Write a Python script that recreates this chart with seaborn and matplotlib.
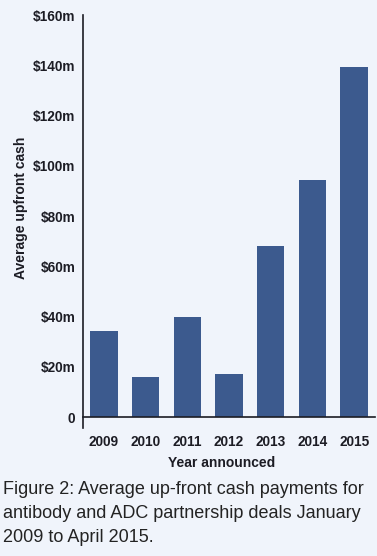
import pandas as pd
import matplotlib
matplotlib.use("Agg")
import matplotlib.pyplot as plt
import seaborn as sns

years = ["2009", "2010", "2011", "2012", "2013", "2014", "2015"]
upfront_cash = [34.2, 16.0, 40.0, 17.1, 68.0, 94.3, 139.3]
ytick_values = [0, 20, 40, 60, 80, 100, 120, 140, 160]
ytick_labels = ["0", "$20m", "$40m", "$60m", "$80m", "$100m", "$120m", "$140m", "$160m"]

BG = "#f0f4fb"
BAR = "#3c5a8e"
INK = "#1c1c24"

sns.set_style("white")
plt.rcParams["font.family"] = ["Liberation Sans Narrow", "Liberation Sans", "DejaVu Sans"]

df = pd.DataFrame({"Year": years, "Cash": upfront_cash})

fig = plt.figure(figsize=(3.77, 5.56), dpi=100, facecolor=BG)
ax = fig.add_axes([83 / 377, 1 - 428 / 556, 292 / 377, 413 / 556])
ax.set_facecolor(BG)

sns.barplot(data=df, x="Year", y="Cash", order=years, color=BAR,
            width=0.66, saturation=1, linewidth=0, ax=ax)

ax.set_ylim(-4.3, 160)
ax.set_xlim(-0.5, 6.5)

# spines: left full height, bottom sits at zero
for side in ["top", "right"]:
    ax.spines[side].set_visible(False)
ax.spines["left"].set_color(INK)
ax.spines["left"].set_linewidth(1.2)
ax.spines["bottom"].set_position(("data", 0))
ax.spines["bottom"].set_color(INK)
ax.spines["bottom"].set_linewidth(1.2)

# y ticks
ax.set_yticks(ytick_values)
ax.set_yticklabels(ytick_labels, fontweight="bold", fontsize=9.8, color=INK)
ax.tick_params(axis="y", direction="out", length=3.5, width=1.2, color=INK, pad=2)

# x ticks: boundary marks, labels in the middle
ax.set_xticks([i - 0.5 for i in range(len(years) + 1)])
ax.set_xticklabels([])
ax.set_xticks(list(range(len(years))), minor=True)
ax.set_xticklabels(years, minor=True, fontweight="bold", fontsize=9.8, color=INK)
ax.tick_params(axis="x", which="major", direction="out", length=7.5, width=1.2, color=INK)
ax.tick_params(axis="x", which="minor", length=0, pad=13)

ax.set_xlabel("")
ax.set_ylabel("")
fig.text(222 / 377, 1 - 463 / 556, "Year announced", ha="center", va="center",
         fontweight="bold", fontsize=10, color=INK)
fig.text(21 / 377, 1 - 208 / 556, "Average upfront cash", ha="center", va="center",
         rotation=90, fontweight="bold", fontsize=10, color=INK)

caption = ("Figure 2: Average up-front cash payments for\n"
           "antibody and ADC partnership deals January\n"
           "2009 to April 2015.")
fig.text(3 / 377, 1 - 481 / 556, caption, ha="left", va="top",
         fontsize=13, color="#232323", linespacing=1.55)

fig.savefig("out.png", dpi=100, facecolor=BG)
